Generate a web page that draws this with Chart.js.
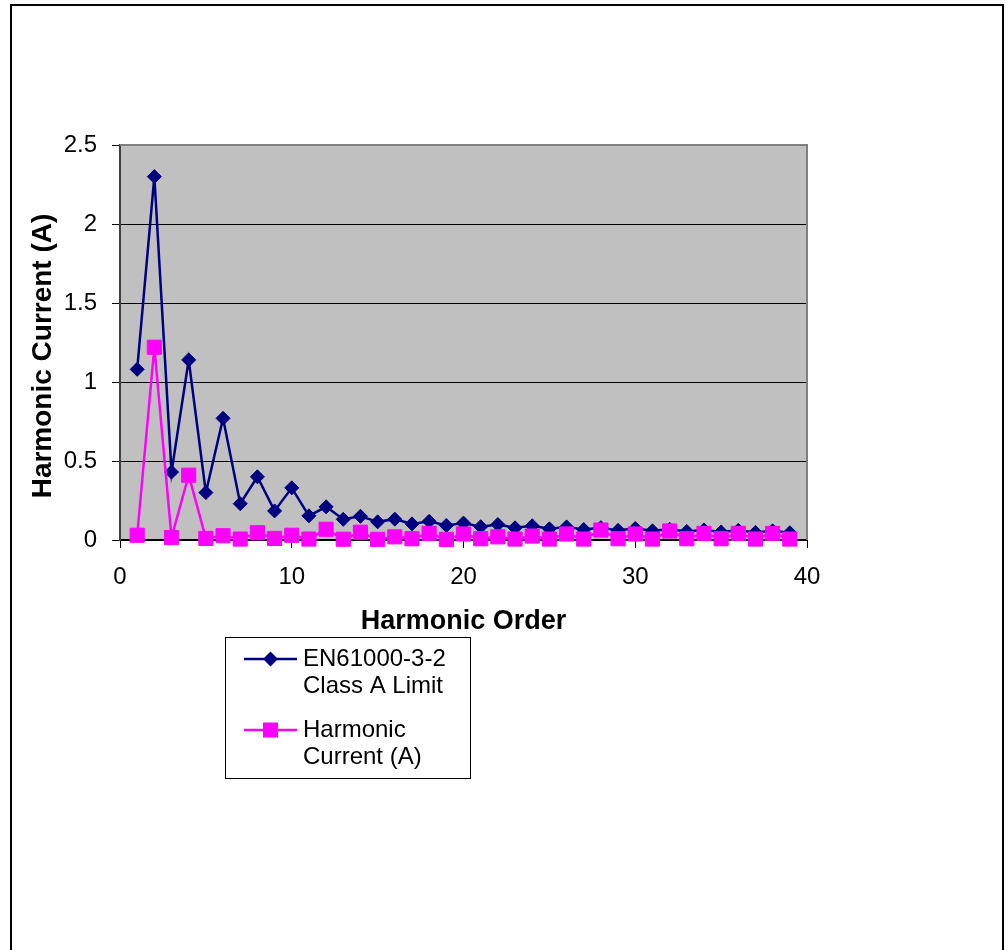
<!DOCTYPE html>
<html>
<head>
<meta charset="utf-8">
<script src="https://cdn.jsdelivr.net/npm/chart.js@4/dist/chart.umd.min.js"></script>
<style>
    html, body { margin: 0; padding: 0; background: #fff; }
    #wrap { position: relative; width: 1006px; height: 950px; }
</style>
</head>
<body>
<div id="wrap"><canvas id="chart"></canvas></div>
<script>
// Data
const harmonicOrder = [1, 2, 3, 4, 5, 6, 7, 8, 9, 10, 11, 12, 13, 14, 15, 16, 17, 18, 19, 20,
    21, 22, 23, 24, 25, 26, 27, 28, 29, 30, 31, 32, 33, 34, 35, 36, 37, 38, 39];
const classALimit = [1.08, 2.30, 0.43, 1.14, 0.30, 0.77, 0.23, 0.40, 0.184, 0.33,
    0.153, 0.21, 0.131, 0.15, 0.115, 0.132, 0.102, 0.118, 0.092, 0.107,
    0.084, 0.098, 0.077, 0.09, 0.071, 0.083, 0.066, 0.078, 0.061, 0.073,
    0.058, 0.068, 0.054, 0.064, 0.051, 0.061, 0.048, 0.058, 0.046];
const harmonicCurrent = [0.03, 1.22, 0.015, 0.41, 0.01, 0.027, 0.006, 0.046, 0.01, 0.03,
    0.006, 0.068, 0.005, 0.049, 0.004, 0.02, 0.008, 0.042, 0.004, 0.038,
    0.008, 0.02, 0.006, 0.025, 0.006, 0.038, 0.006, 0.063, 0.008, 0.038,
    0.006, 0.057, 0.008, 0.042, 0.008, 0.042, 0.006, 0.042, 0.006];
const seriesNames = [['EN61000-3-2', 'Class A Limit'], ['Harmonic', 'Current (A)']];
const xTitle = 'Harmonic Order';
const yTitle = 'Harmonic Current (A)';

const FONT = 'Arial, "Liberation Sans", sans-serif';
const NAVY = '#000080';
const MAGENTA = '#FF00FF';

function toPoints(values) {
    return harmonicOrder.map((x, i) => ({ x: x, y: values[i] }));
}

// plot background, frame, y title and legend
const decorations = {
    id: 'decorations',
    beforeDraw(chart) {
        const ctx = chart.ctx;
        const a = chart.chartArea;
        ctx.save();
        ctx.fillStyle = '#fff';
        ctx.fillRect(0, 0, chart.width, chart.height);
        // outer frame
        ctx.strokeStyle = '#000';
        ctx.lineWidth = 2;
        ctx.beginPath();
        ctx.moveTo(11, chart.height + 5);
        ctx.lineTo(11, 5);
        ctx.lineTo(1003, 5);
        ctx.lineTo(1003, chart.height + 5);
        ctx.stroke();
        ctx.fillStyle = '#C0C0C0';
        ctx.fillRect(a.left, a.top, a.right - a.left, a.bottom - a.top);
        ctx.restore();
    },
    beforeDatasetsDraw(chart) {
        const ctx = chart.ctx;
        const a = chart.chartArea;
        ctx.save();
        ctx.strokeStyle = '#808080';
        ctx.lineWidth = 2;
        ctx.beginPath();
        ctx.moveTo(a.left, a.top);
        ctx.lineTo(a.right, a.top);
        ctx.lineTo(a.right, a.bottom);
        ctx.stroke();
        ctx.restore();
    },
    afterDraw(chart) {
        const ctx = chart.ctx;
        ctx.save();
        // y axis title
        ctx.save();
        ctx.translate(43, 356);
        ctx.rotate(-Math.PI / 2);
        ctx.font = 'bold 28px ' + FONT;
        ctx.fillStyle = '#000';
        ctx.textAlign = 'center';
        ctx.textBaseline = 'middle';
        ctx.fillText(yTitle, 0, 0);
        ctx.restore();

        // legend
        ctx.strokeStyle = '#000';
        ctx.lineWidth = 1;
        ctx.strokeRect(225.5, 637.5, 245, 141);
        ctx.font = '24px ' + FONT;
        ctx.textBaseline = 'middle';
        ctx.textAlign = 'left';
        chart.data.datasets.forEach((ds, i) => {
            const y = i === 0 ? 659 : 730;
            ctx.strokeStyle = ds.borderColor;
            ctx.lineWidth = 2.5;
            ctx.beginPath();
            ctx.moveTo(244, y);
            ctx.lineTo(297, y);
            ctx.stroke();
            ctx.fillStyle = ds.backgroundColor;
            ctx.beginPath();
            if (ds.pointStyle === 'rectRot') {
                ctx.moveTo(270.5 - 7.5, y);
                ctx.lineTo(270.5, y - 7.5);
                ctx.lineTo(270.5 + 7.5, y);
                ctx.lineTo(270.5, y + 7.5);
                ctx.closePath();
            } else {
                ctx.rect(270.5 - 7.5, y - 7.5, 15, 15);
            }
            ctx.fill();
            ctx.fillStyle = '#000';
            seriesNames[i].forEach((line, j) => {
                ctx.fillText(line, 303, y + j * 27.5);
            });
        });
        ctx.restore();
    }
};

const ctx = document.getElementById('chart').getContext('2d');
const chart = new Chart(ctx, {
    type: 'line',
    data: {
        datasets: [{
            label: seriesNames[0].join(' '),
            data: toPoints(classALimit),
            borderColor: NAVY,
            backgroundColor: NAVY,
            borderWidth: 2.5,
            pointStyle: 'rectRot',
            pointRadius: 7,
            pointBorderWidth: 1,
            pointHoverRadius: 7,
            tension: 0,
            clip: false,
            order: 1
        }, {
            label: seriesNames[1].join(' '),
            data: toPoints(harmonicCurrent),
            borderColor: MAGENTA,
            backgroundColor: MAGENTA,
            borderWidth: 2.5,
            pointStyle: 'rect',
            pointRadius: 10,
            pointBorderWidth: 1,
            pointHoverRadius: 10,
            tension: 0,
            clip: false,
            order: 0
        }]
    },
    options: {
        responsive: true,
        maintainAspectRatio: false,
        animation: false,
        events: [],
        layout: {
            padding: { left: 0, top: 145, right: 199, bottom: 310 }
        },
        plugins: {
            legend: { display: false },
            tooltip: { enabled: false }
        },
        scales: {
            x: {
                type: 'linear',
                min: 0,
                max: 40,
                afterFit(scale) { scale.height = 100; },
                ticks: {
                    stepSize: 10,
                    color: '#000',
                    padding: 15,
                    maxRotation: 0,
                    font: { family: FONT, size: 24 }
                },
                grid: {
                    drawOnChartArea: false,
                    color: '#000',
                    tickLength: 8
                },
                border: { color: '#000', width: 2 },
                title: {
                    display: true,
                    text: xTitle,
                    color: '#000',
                    font: { family: FONT, size: 27, weight: 'bold' },
                    padding: { top: 0, bottom: 2 }
                }
            },
            y: {
                min: 0,
                max: 2.5,
                afterFit(scale) { scale.width = 120; },
                ticks: {
                    stepSize: 0.5,
                    color: '#000',
                    padding: 15,
                    font: { family: FONT, size: 24 },
                    callback: value => String(value)
                },
                grid: {
                    color: '#000',
                    lineWidth: 1,
                    tickLength: 8
                },
                border: { color: '#404040', width: 2 },
                title: { display: false }
            }
        }
    },
    plugins: [decorations]
});
</script>
</body>
</html>
